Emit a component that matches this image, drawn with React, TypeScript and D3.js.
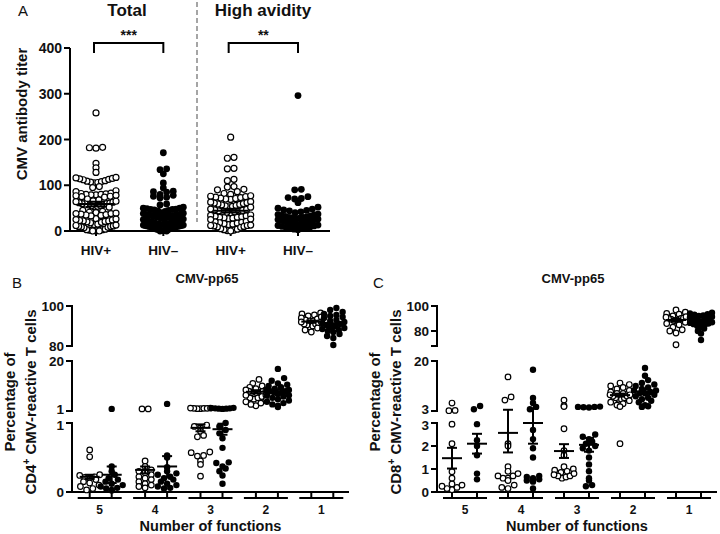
import React, { useEffect, useRef } from "react";
import * as d3 from "d3";

const FONT = "'Liberation Sans', Arial, Helvetica, sans-serif";

// ---- Panel A: CMV antibody titer ----
const groupsA = ["HIV+", "HIV\u2013", "HIV+ ", "HIV\u2013 "];
const hivPosTotal = [258, 183, 181, 182, 148, 138, 128,
  117, 116, 115, 114, 113, 112, 110, 109, 108, 107, 106, 105,
  97, 95, 88, 86,
  83, 82, 81, 80, 80, 79, 79, 78, 77, 76, 75, 74,
  70, 68, 66, 65, 64, 63, 62, 61, 60, 60, 59, 58, 57, 56, 55, 54, 53, 52,
  45, 43, 41, 40, 39, 38, 38, 37, 36, 35, 34, 33,
  27, 26, 25, 24, 23, 22, 22, 21, 20, 19, 18,
  15, 14, 13, 12, 11, 10, 10, 9, 8, 7,
  4, 3, 3, 2, 2, 1, 1, 1, 0, 0];
const hivNegTotal = [171, 136, 134, 125, 105, 94, 87, 86, 85, 80, 78, 76, 74, 72, 59, 57,
  52, 50, 50, 49, 48, 47, 47, 46, 45, 44, 43,
  40, 39, 38, 37, 36, 36, 35, 35, 34, 33, 33, 32, 31, 30, 30, 29, 28, 27, 26, 25, 24, 23, 22, 21, 20,
  17, 16, 15, 14, 13, 13, 12, 12, 11, 11, 10, 10, 9, 9, 8, 8, 7, 6, 5,
  4, 3, 3, 2, 2, 1, 1, 0, 0];
const hivPosHigh = [205, 161, 159, 137, 136, 113, 110, 97, 96, 91, 90, 86, 82, 80, 77, 76, 75, 74, 73, 72, 71, 70, 69,
  64, 63, 62, 61, 60, 59, 58, 57, 56, 55, 54, 53, 52,
  48, 47, 46, 45, 44, 44, 43, 42, 41, 40,
  35, 34, 33, 32, 31, 30, 30, 29, 28, 27, 26, 25,
  21, 20, 19, 18, 17, 16, 15, 14, 13, 12, 12, 11, 10, 9, 8,
  5, 4, 3, 2, 1, 1, 0];
const hivNegHigh = [296, 91, 90, 75, 73, 71, 70, 62, 52, 50, 48, 46, 45, 44, 42, 40,
  37, 36, 35, 34, 33, 32, 31, 30, 30, 29, 28, 27, 26, 25, 25, 24, 23, 22, 21, 20, 20,
  19, 18, 17, 16, 15, 14, 13, 12, 11, 10, 9, 8, 7, 6, 5, 4, 3];
const seriesA = [hivPosTotal, hivNegTotal, hivPosHigh, hivNegHigh];
const filledA = [false, true, false, true];
const meanA = [59, 35, 44.5, 28];
const semA = [5, 3.5, 4, 3.5];
const ticksA = [0, 100, 200, 300, 400];

// ---- Panels B/C: number of functions ----
const functionLabels = ["5", "4", "3", "2", "1"];

const cd4Open = [
  [0.61, 0.51, 0.25, 0.24, 0.22, 0.21, 0.2, 0.18, 0.15, 0.13, 0.1, 0.08, 0.05, 0.03],
  [1.8, 1.8, 0.45, 0.37, 0.32, 0.3, 0.28, 0.25, 0.22, 0.2, 0.18, 0.15, 0.12, 0.1, 0.08, 0.06],
  [2.1, 2.1, 2.0, 2.0, 2.0, 1.9, 1.9, 0.97, 0.95, 0.93, 0.88, 0.82, 0.8, 0.58, 0.57, 0.53, 0.52, 0.45, 0.4, 0.23],
  [13, 11.5, 10.5, 10, 9.5, 9, 9, 8.5, 8.5, 8, 8, 7.5, 7.5, 7, 7, 6.5, 6, 6, 5.5, 5, 4.5, 4, 3.5, 3],
  [96.5, 96, 95.5, 95, 94.5, 94, 93.5, 93, 92.5, 92.5, 92, 92, 91.5, 91, 91, 90.5, 90, 89.5, 89, 88, 87],
];
const cd4Filled = [
  [1.8, 0.37, 0.3, 0.25, 0.2, 0.18, 0.15, 0.12, 0.1, 0.08, 0.06, 0.05, 0.03, 0.02],
  [3.7, 0.53, 0.5, 0.36, 0.3, 0.27, 0.25, 0.22, 0.2, 0.18, 0.15, 0.12, 0.1, 0.08, 0.06, 0.05],
  [2.2, 2.1, 2.0, 2.0, 1.9, 1.9, 1.8, 1.0, 0.95, 0.9, 0.85, 0.78, 0.64, 0.43, 0.42, 0.37, 0.34, 0.3, 0.24, 0.12],
  [17, 13.5, 12.5, 11.5, 11, 10.5, 10, 9.5, 9, 9, 8.5, 8.5, 8, 8, 7.5, 7, 7, 6.5, 6, 5.5, 5, 4.5, 4, 3.5, 3, 2.5],
  [99, 98, 97, 96, 95.5, 95, 94.5, 94, 93, 92.5, 92, 91.5, 91, 90.5, 90, 89.5, 89, 88.5, 88, 87.5, 87, 86, 85, 84, 80.5],
];
const cd4MeanOpen = [0.22, 0.32, 0.93, 8.3, 92.2];
const cd4ErrOpen = [0.03, 0.05, 0.05, 0.6, 0.6];
const cd4MeanFilled = [0.25, 0.37, 0.91, 8.3, 90.5];
const cd4ErrFilled = [0.12, 0.15, 0.08, 0.8, 0.9];

const cd8Open = [
  [5.7, 3.2, 3.1, 2.95, 2.1, 0.88, 0.6, 0.35, 0.3, 0.25, 0.2, 0.15, 0.1],
  [14.6, 7.8, 6.7, 2.1, 2.0, 1.1, 0.9, 0.8, 0.7, 0.7, 0.6, 0.6, 0.5, 0.3, 0.2, 0.15],
  [6.7, 4.8, 4.5, 2.75, 1.8, 1.6, 1.1, 1.0, 0.95, 0.9, 0.85, 0.8, 0.75, 0.7, 0.7, 0.65, 0.6],
  [12.5, 12, 11.5, 11, 10.5, 10, 9.5, 9, 9, 8.5, 8.5, 8, 8, 7.5, 7.5, 7, 7, 6.5, 6, 5.5, 5, 4.5, 2.1],
  [96.8, 95, 94, 93.5, 92, 91.5, 91, 90.5, 90, 90, 89.5, 89, 88.5, 88, 87, 86, 85, 83, 81, 80, 78.4, 69],
];
const cd8Filled = [
  [4.7, 3.6, 2.95, 2.25, 2.0, 1.6, 0.8, 0.55],
  [17, 7.4, 5.7, 4.4, 3.6, 2.7, 2.3, 1.9, 1.5, 0.7, 0.65, 0.6, 0.55, 0.5, 0.45, 0.15],
  [4.5, 4.4, 4.4, 4.3, 4.2, 2.5, 2.4, 2.3, 2.2, 2.1, 2.0, 1.9, 1.8, 1.5, 1.2, 0.9, 0.6, 0.5, 0.3, 0.25],
  [17.6, 15, 13.5, 12.5, 12, 11.5, 11, 10.5, 10, 10, 9.5, 9, 9, 8.5, 8, 7.5, 7, 6.5, 6, 5, 4.6, 4.4],
  [94.6, 94, 93.5, 93, 92.5, 92, 91.5, 91, 90.5, 90, 89.5, 89, 88.5, 88, 87.5, 87, 86.5, 86, 85.5, 85, 84, 83, 82, 80, 78, 72.8],
];
const cd8MeanOpen = [1.47, 2.57, 1.78, 8.4, 88.8];
const cd8ErrOpen = [0.45, 0.85, 0.3, 0.5, 1.2];
const cd8MeanFilled = [2.1, 3.0, 2.05, 9.6, 86.7];
const cd8ErrFilled = [0.43, 0.9, 0.3, 0.8, 1.0];

// broken axis segments: [domain, range, labelled ticks]
const segsB = [
  { domain: [0, 1], range: [492, 423], ticks: [0, 1], labels: [0, 1] },
  { domain: [1, 20], range: [411, 361], ticks: [1, 20], labels: [1, 20] },
  { domain: [80, 100], range: [346, 306], ticks: [80, 100], labels: [80, 100] },
];
const segsC = [
  { domain: [0, 3], range: [492, 423], ticks: [0, 1, 2, 3], labels: [0, 1, 2, 3] },
  { domain: [3, 20], range: [411, 361], ticks: [3, 20], labels: [3, 20] },
  { domain: [68, 100], range: [346, 306], ticks: [68, 80, 100], labels: [80, 100] },
];

function brokenScale(segs) {
  const scales = segs.map((s) => d3.scaleLinear().domain(s.domain).range(s.range));
  return (v) => {
    for (let i = 0; i < segs.length; i++) {
      if (v <= segs[i].domain[1] || i === segs.length - 1) return scales[i](v);
    }
    return 0;
  };
}

// GraphPad-like scatter: points binned in rows, spread around the centre
function swarm(values, cx, yFn, r, half) {
  const pts = values.map((v) => ({ v, y: yFn(v) }));
  const rows = d3.groups(pts, (p) => Math.round(p.y / (2 * r)));
  const out = [];
  rows.forEach(([, row]) => {
    row.sort((a, b) => a.v - b.v);
    const n = row.length;
    const dx = n > 1 ? Math.min(2 * r + 0.6, (2 * half) / (n - 1)) : 0;
    const slots = d3.range(n).map((i) => i - (n - 1) / 2)
      .sort((a, b) => Math.abs(a) - Math.abs(b) || a - b);
    row.forEach((p, i) => out.push({ ...p, x: cx + slots[i] * dx }));
  });
  return out;
}

function drawDots(g, values, cx, yFn, r, half, filled) {
  g.append("g")
    .selectAll("circle")
    .data(swarm(values, cx, yFn, r, half))
    .join("circle")
    .attr("cx", (d) => d.x)
    .attr("cy", (d) => d.y)
    .attr("r", filled ? r + 0.4 : r)
    .attr("fill", filled ? "#000" : "#fff")
    .attr("stroke", "#000")
    .attr("stroke-width", filled ? 0 : 1.2);
}

function drawMean(g, cx, yFn, mean, err, halfMean, halfCap) {
  const y0 = yFn(mean - err), y1 = yFn(mean + err), ym = yFn(mean);
  const s = g.append("g").attr("stroke", "#000").attr("stroke-width", 2).attr("fill", "none");
  s.append("line").attr("x1", cx - halfMean).attr("x2", cx + halfMean).attr("y1", ym).attr("y2", ym);
  s.append("line").attr("x1", cx).attr("x2", cx).attr("y1", y0).attr("y2", y1);
  s.append("line").attr("x1", cx - halfCap).attr("x2", cx + halfCap).attr("y1", y0).attr("y2", y0);
  s.append("line").attr("x1", cx - halfCap).attr("x2", cx + halfCap).attr("y1", y1).attr("y2", y1);
}

function text(g, x, y, str, size, weight, anchor = "middle") {
  return g.append("text")
    .attr("x", x).attr("y", y)
    .attr("font-family", FONT)
    .attr("font-size", size)
    .attr("font-weight", weight)
    .attr("text-anchor", anchor)
    .attr("fill", "#111")
    .text(str);
}

function drawPanelA(svg) {
  const g = svg.append("g");
  const y = d3.scaleLinear().domain([0, 400]).range([231, 48]);
  const x = d3.scalePoint().domain(groupsA).range([96, 298]);
  const axX = 70;

  // dashed separator
  g.append("line").attr("x1", 197).attr("x2", 197).attr("y1", 2).attr("y2", 222)
    .attr("stroke", "#888").attr("stroke-width", 1.5).attr("stroke-dasharray", "5,3");

  // y axis
  g.append("line").attr("x1", axX).attr("x2", axX).attr("y1", y(400)).attr("y2", y(0) + 1)
    .attr("stroke", "#000").attr("stroke-width", 2);
  ticksA.forEach((t) => {
    g.append("line").attr("x1", axX - 6).attr("x2", axX).attr("y1", y(t)).attr("y2", y(t))
      .attr("stroke", "#000").attr("stroke-width", 2);
    text(g, axX - 8, y(t) + 5, String(t), 14, "bold", "end");
  });
  // x axis
  g.append("line").attr("x1", axX).attr("x2", 330).attr("y1", y(0)).attr("y2", y(0))
    .attr("stroke", "#000").attr("stroke-width", 2);
  groupsA.forEach((c) => {
    g.append("line").attr("x1", x(c)).attr("x2", x(c)).attr("y1", y(0)).attr("y2", y(0) + 5)
      .attr("stroke", "#000").attr("stroke-width", 2);
    text(g, x(c), 255, c.trim(), 13.5, "bold");
  });

  seriesA.forEach((vals, i) => {
    drawDots(g, vals, x(groupsA[i]), y, 3, 20, filledA[i]);
  });
  seriesA.forEach((vals, i) => {
    drawMean(g, x(groupsA[i]), y, meanA[i], semA[i], 18, 9);
  });

  // significance brackets
  [[0, 1, "***"], [2, 3, "**"]].forEach(([a, b, s]) => {
    const x1 = x(groupsA[a]) - 2, x2 = x(groupsA[b]);
    g.append("path").attr("d", `M${x1},53V43H${x2}V53`).attr("fill", "none")
      .attr("stroke", "#000").attr("stroke-width", 2);
    text(g, (x1 + x2) / 2, 40, s, 14, "bold");
  });

  text(g, 18, 16, "A", 15, "normal", "start");
  text(g, 127, 16, "Total", 17, "bold");
  text(g, 263, 16, "High avidity", 17, "bold");
  text(g, 0, 0, "CMV antibody titer", 15, "bold")
    .attr("transform", "translate(27,114) rotate(-90)");
}

function drawBrokenPanel(svg, opts) {
  const { x0, x1, segs, open, filled, meanO, errO, meanF, errF, offO, offF, letter, letterX, titleX, labelX1, labelX2, cellLabel } = opts;
  const g = svg.append("g");
  const y = brokenScale(segs);
  const x = d3.scaleBand().domain(functionLabels).range([x0, x1]);
  const cx = (k) => x(k) + x.bandwidth() / 2;

  // y axis segments
  segs.forEach((s, si) => {
    const sc = d3.scaleLinear().domain(s.domain).range(s.range);
    g.append("line").attr("x1", x0).attr("x2", x0).attr("y1", s.range[0] + (s.domain[0] === 0 ? 1 : 0)).attr("y2", s.range[1])
      .attr("stroke", "#000").attr("stroke-width", 2);
    s.ticks.forEach((t) => {
      g.append("line").attr("x1", x0 - 6).attr("x2", x0 + 1).attr("y1", sc(t)).attr("y2", sc(t))
        .attr("stroke", "#000").attr("stroke-width", 2);
    });
    s.labels.forEach((t) => {
      // nudge the two labels that sit at the first break apart a little
      let dy = 5;
      if (si === 0 && t === s.domain[1]) dy = 7;
      if (si === 1 && t === s.domain[0]) dy = 3;
      text(g, x0 - 8, sc(t) + dy, String(t), 13.5, "bold", "end");
    });
  });

  // x axis
  g.append("line").attr("x1", x0).attr("x2", x1).attr("y1", 492).attr("y2", 492)
    .attr("stroke", "#000").attr("stroke-width", 2);
  functionLabels.forEach((k) => {
    const c = cx(k);
    [c + offO, c + offF].forEach((px) => {
      g.append("line").attr("x1", px).attr("x2", px).attr("y1", 492).attr("y2", 498)
        .attr("stroke", "#000").attr("stroke-width", 2);
    });
    g.append("line").attr("x1", c - 22).attr("x2", c + 22).attr("y1", 498).attr("y2", 498)
      .attr("stroke", "#000").attr("stroke-width", 2);
    text(g, c, 514, k, 12, "bold");
  });
  text(g, (x0 + x1) / 2, 531, "Number of functions", 14.5, "bold");

  functionLabels.forEach((k, i) => {
    const c = cx(k);
    drawDots(g, open[i], c + offO, y, 2.8, 10, false);
    drawDots(g, filled[i], c + offF, y, 2.8, 11, true);
  });
  functionLabels.forEach((k, i) => {
    const c = cx(k);
    drawMean(g, c + offO, y, meanO[i], errO[i], 10, 5);
    drawMean(g, c + offF, y, meanF[i], errF[i], 10, 5);
  });

  text(g, letterX, 288, letter, 15, "normal", "start");
  text(g, titleX, 283, "CMV-pp65", 13, "bold");

  const cy = 402;
  text(g, 0, 0, "Percentage of", 15, "bold").attr("transform", `translate(${labelX1},${cy}) rotate(-90)`);
  const t2 = text(g, 0, 0, "", 15, "bold").attr("transform", `translate(${labelX2},${cy}) rotate(-90)`);
  t2.append("tspan").text(cellLabel);
  t2.append("tspan").attr("dy", -6).attr("font-size", 10).text("+");
  t2.append("tspan").attr("dy", 6).text(" CMV-reactive T cells");
}

export default function App() {
  const ref = useRef(null);
  useEffect(() => {
    const svg = d3.select(ref.current);
    svg.selectAll("*").remove();
    drawPanelA(svg);
    drawBrokenPanel(svg, {
      x0: 72, x1: 349, segs: segsB,
      open: cd4Open, filled: cd4Filled,
      meanO: cd4MeanOpen, errO: cd4ErrOpen, meanF: cd4MeanFilled, errF: cd4ErrFilled,
      offO: -10, offF: 12, letter: "B", letterX: 12, titleX: 207,
      labelX1: 15, labelX2: 36, cellLabel: "CD4",
    });
    drawBrokenPanel(svg, {
      x0: 437, x1: 717, segs: segsC,
      open: cd8Open, filled: cd8Filled,
      meanO: cd8MeanOpen, errO: cd8ErrOpen, meanF: cd8MeanFilled, errF: cd8ErrFilled,
      offO: -13, offF: 12, letter: "C", letterX: 373, titleX: 573,
      labelX1: 380, labelX2: 401, cellLabel: "CD8",
    });
  }, []);

  return (
    <svg
      ref={ref}
      width={720}
      height={534}
      style={{ position: "absolute", left: 0, top: 0, background: "#fff" }}
    />
  );
}
